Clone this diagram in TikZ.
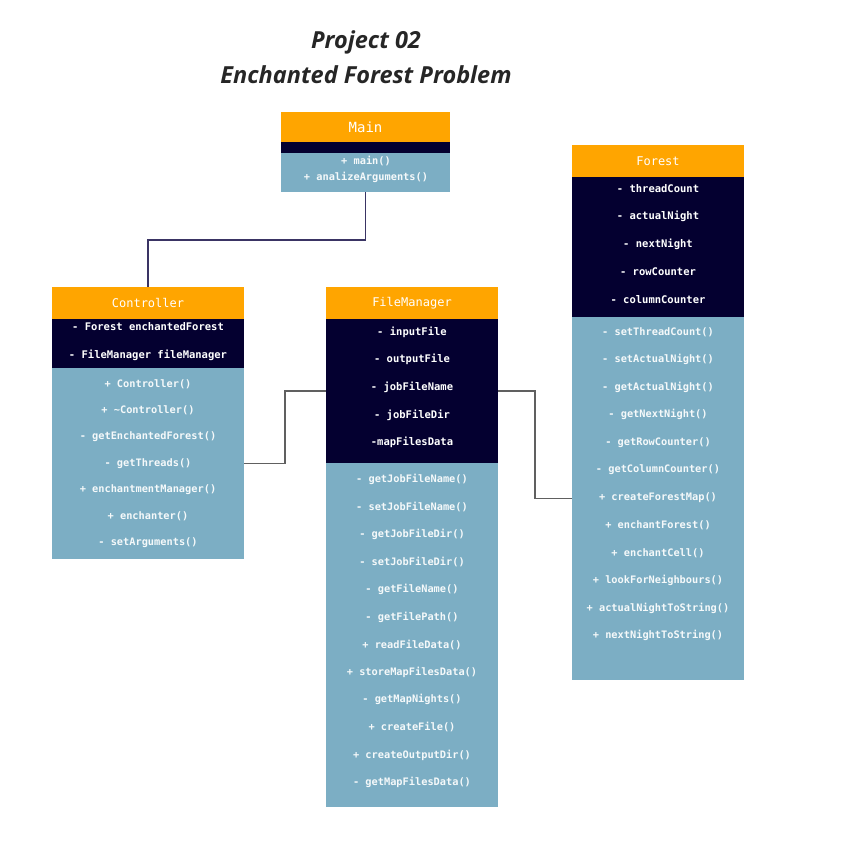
\documentclass[tikz,border=0pt]{standalone}
\usepackage{fontspec}
\setmainfont{Open Sans}
\setmonofont{DejaVu Sans Mono}
\usetikzlibrary{positioning}

\definecolor{headorange}{RGB}{255,165,0}
\definecolor{attrnavy}{RGB}{4,0,48}
\definecolor{opsblue}{RGB}{124,174,196}
\definecolor{linknavy}{RGB}{58,52,100}
\definecolor{linkgray}{RGB}{96,96,96}

\begin{document}
\begin{tikzpicture}[x=1pt,y=-1pt,
    box/.style={anchor=north west,inner sep=0pt,outer sep=0pt},
    headbox/.style={box,fill=headorange,text=white,font=\ttfamily\fontsize{12}{12}\selectfont},
    attrbox/.style={box,fill=attrnavy},
    opsbox/.style={box,fill=opsblue},
    attrtext/.style={text=white,inner sep=0pt,font=\ttfamily\bfseries\fontsize{10.5}{11}\selectfont},
    opstext/.style={text=white!92!opsblue,inner sep=0pt,font=\ttfamily\bfseries\fontsize{10.3}{11}\selectfont},
    titletext/.style={text=black!85,font=\fontsize{23.5}{24}\selectfont\bfseries\itshape},
    link/.style={line width=1.4pt,linkgray}]
    \fill[white] (0,0) rectangle (862,847);
    \useasboundingbox (0,0) rectangle (862,847);

    % title
    \node[titletext] (title1) at (366,42) {Project 02};
    \node[titletext] (title2) at (366,75) {Enchanted Forest Problem};

    % Main
    \node[headbox,minimum width=169pt,minimum height=30pt,font=\ttfamily\fontsize{14}{14}\selectfont] (mainhead) at (281,112) {Main};
    \node[attrbox,minimum width=169pt,minimum height=11pt] (mainattr) at (281,142) {};
    \node[opsbox,minimum width=169pt,minimum height=39pt] (mainops) at (281,153) {};
    \node[opstext] (mainop1) at (366,161) {+ main()};
    \node[opstext] (mainop2) at (366,177) {+ analizeArguments()};

    % Controller
    \node[headbox,minimum width=192pt,minimum height=32pt] (ctrlhead) at (52,287) {Controller};
    \node[attrbox,minimum width=192pt,minimum height=49pt] (ctrlattr) at (52,319) {};
    \node[opsbox,minimum width=192pt,minimum height=191pt] (ctrlops) at (52,368) {};
    \foreach \txt [count=\i] in {- Forest enchantedForest,- FileManager fileManager}
        \node[attrtext] (ctrla\i) at (148,{327+(\i-1)*28}) {\txt};
    \foreach \txt [count=\i] in {+ Controller(),+ \textasciitilde Controller(),- getEnchantedForest(),- getThreads(),
        + enchantmentManager(),+ enchanter(),- setArguments()}
        \node[opstext] (ctrlo\i) at (148,{384+(\i-1)*26.5}) {\txt};

    % FileManager
    \node[headbox,minimum width=172pt,minimum height=32pt] (fmhead) at (326,287) {FileManager};
    \node[attrbox,minimum width=172pt,minimum height=144pt] (fmattr) at (326,319) {};
    \node[opsbox,minimum width=172pt,minimum height=344pt] (fmops) at (326,463) {};
    \foreach \txt [count=\i] in {- inputFile,- outputFile,- jobFileName,- jobFileDir,-mapFilesData}
        \node[attrtext] (fma\i) at (412,{332+(\i-1)*27.7}) {\txt};
    \foreach \txt [count=\i] in {- getJobFileName(),- setJobFileName(),- getJobFileDir(),- setJobFileDir(),
        - getFileName(),- getFilePath(),+ readFileData(),+ storeMapFilesData(),- getMapNights(),
        + createFile(),+ createOutputDir(),- getMapFilesData()}
        \node[opstext] (fmo\i) at (412,{479+(\i-1)*27.6}) {\txt};

    % Forest
    \node[headbox,minimum width=172pt,minimum height=32pt] (forhead) at (572,145) {Forest};
    \node[attrbox,minimum width=172pt,minimum height=140pt] (forattr) at (572,177) {};
    \node[opsbox,minimum width=172pt,minimum height=363pt] (forops) at (572,317) {};
    \foreach \txt [count=\i] in {- threadCount,- actualNight,- nextNight,- rowCounter,- columnCounter}
        \node[attrtext] (fora\i) at (658,{189+(\i-1)*27.7}) {\txt};
    \foreach \txt [count=\i] in {- setThreadCount(),- setActualNight(),- getActualNight(),- getNextNight(),
        - getRowCounter(),- getColumnCounter(),+ createForestMap(),+ enchantForest(),+ enchantCell(),
        + lookForNeighbours(),+ actualNightToString(),+ nextNightToString()}
        \node[opstext] (foro\i) at (658,{332+(\i-1)*27.6}) {\txt};

    % connectors
    \draw[link,linknavy] (mainops.south) -- ++(0,48) -| (ctrlhead.north);
    \draw[link] (ctrlops.east) -- ++(41,0) |- (fmattr.west);
    \draw[link] (fmattr.east) -- ++(37,0) |- (forops.west);
\end{tikzpicture}
\end{document}
